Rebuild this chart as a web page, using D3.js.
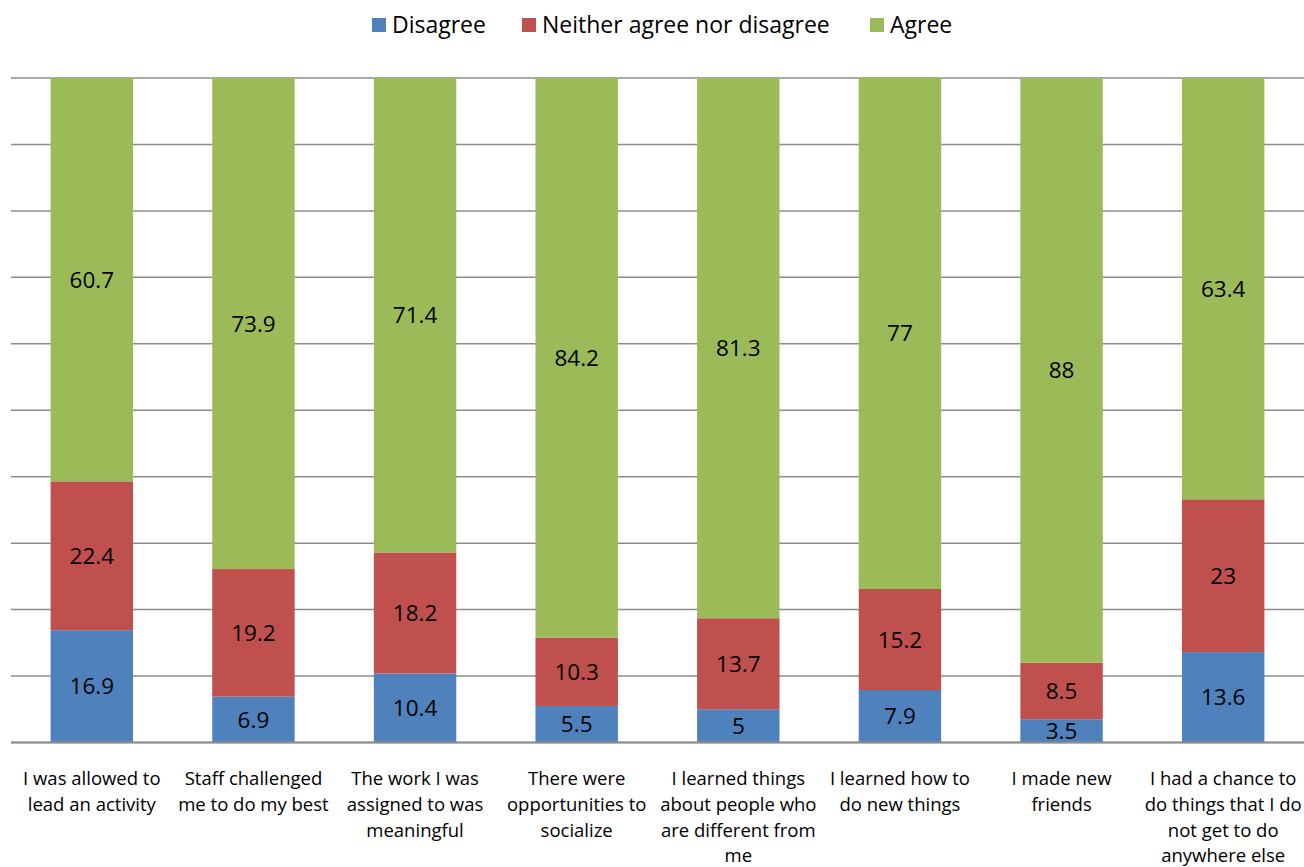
<!DOCTYPE html>
<html>
<head>
<meta charset="utf-8">
<script src="https://cdn.jsdelivr.net/npm/d3@7"></script>
<style>
  body { margin: 0; background: #fff; }
  text { font-family: "Open Sans", sans-serif; fill: #000; }
</style>
</head>
<body>
<svg id="chart" width="1304" height="867"></svg>
<script>
const categories = [
  ["I was allowed to", "lead an activity"],
  ["Staff challenged", "me to do my best"],
  ["The work I was", "assigned to was", "meaningful"],
  ["There were", "opportunities to", "socialize"],
  ["I learned things", "about people who", "are different from", "me"],
  ["I learned how to", "do new things"],
  ["I made new", "friends"],
  ["I had a chance to", "do things that I do", "not get to do", "anywhere else"]
];
const disagree = [16.9, 6.9, 10.4, 5.5, 5, 7.9, 3.5, 13.6];
const neither = [22.4, 19.2, 18.2, 10.3, 13.7, 15.2, 8.5, 23];
const agree = [60.7, 73.9, 71.4, 84.2, 81.3, 77, 88, 63.4];
const seriesNames = ["Disagree", "Neither agree nor disagree", "Agree"];
const colors = ["#4F81BD", "#C0504D", "#9BBB59"];

const svg = d3.select("#chart");
const marginLeft = 11, marginRight = 0, marginTop = 78, plotBottom = 742.5;
const width = 1304;

const rows = categories.map((c, i) => ({
  key: i, Disagree: disagree[i], "Neither agree nor disagree": neither[i], Agree: agree[i]
}));
const stacked = d3.stack().keys(seriesNames)(rows);

const x = d3.scaleBand()
  .domain(d3.range(categories.length))
  .range([marginLeft, width - marginRight])
  .paddingInner(0.49)
  .paddingOuter(0.245);

const y = d3.scaleLinear().domain([0, 100]).range([plotBottom, marginTop]);

// gridlines
svg.append("g")
  .selectAll("line")
  .data(d3.range(0, 101, 10))
  .join("line")
  .attr("x1", marginLeft)
  .attr("x2", width - marginRight)
  .attr("y1", d => y(d))
  .attr("y2", d => y(d))
  .attr("stroke", "#8c8c8c")
  .attr("stroke-width", 1.5);

// bars
const groups = svg.append("g")
  .selectAll("g")
  .data(stacked)
  .join("g")
  .attr("fill", (d, i) => colors[i]);

groups.selectAll("rect")
  .data(d => d)
  .join("rect")
  .attr("x", (d, i) => x(i))
  .attr("width", x.bandwidth())
  .attr("y", d => y(d[1]))
  .attr("height", d => y(d[0]) - y(d[1]));

// value labels
groups.selectAll("text")
  .data(d => d.map(v => ({ v, val: v[1] - v[0] })))
  .join("text")
  .attr("x", (d, i) => x(i) + x.bandwidth() / 2)
  .attr("y", d => (y(d.v[0]) + y(d.v[1])) / 2)
  .attr("dy", "0.36em")
  .attr("text-anchor", "middle")
  .attr("font-size", 22.5)
  .text(d => d3.format("")(+d.val.toFixed(1)));

// axis line
svg.append("line")
  .attr("x1", marginLeft).attr("x2", width - marginRight)
  .attr("y1", y(0)).attr("y2", y(0))
  .attr("stroke", "#8c8c8c").attr("stroke-width", 2);

// category labels
const xAxis = svg.append("g");
categories.forEach((lines, i) => {
  const t = xAxis.append("text")
    .attr("text-anchor", "middle")
    .attr("font-size", 18.5)
    .attr("x", x(i) + x.bandwidth() / 2)
    .attr("y", 785);
  lines.forEach((l, j) => {
    t.append("tspan")
      .attr("x", x(i) + x.bandwidth() / 2)
      .attr("dy", j === 0 ? 0 : 25.8)
      .text(l);
  });
});

// legend
const legendX = [372, 522, 870];
const legend = svg.append("g");
seriesNames.forEach((name, i) => {
  legend.append("rect")
    .attr("x", legendX[i]).attr("y", 18)
    .attr("width", 14).attr("height", 14)
    .attr("fill", colors[i]);
  legend.append("text")
    .attr("x", legendX[i] + 20).attr("y", 25)
    .attr("dy", "0.36em")
    .attr("font-size", 23)
    .text(name);
});
</script>
</body>
</html>
